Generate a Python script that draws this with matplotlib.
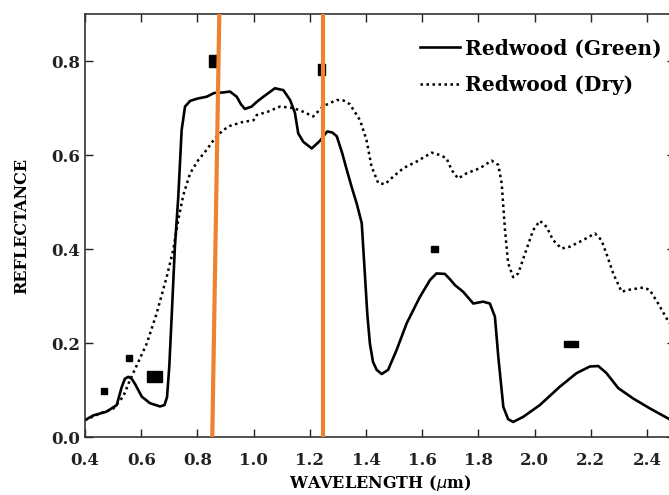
import matplotlib
matplotlib.use('Agg')
import matplotlib.pyplot as plt
from matplotlib.patches import Rectangle

# Reflectance spectra (wavelength in um)
green_wl = [0.400, 0.430, 0.477, 0.513, 0.530, 0.542, 0.554, 0.566, 0.578, 0.602,
            0.631, 0.667, 0.683, 0.692, 0.700, 0.709, 0.720, 0.732, 0.744, 0.756,
            0.774, 0.800, 0.833, 0.860, 0.891, 0.916, 0.940, 0.955, 0.969, 0.993,
            1.011, 1.035, 1.076, 1.106, 1.130, 1.147, 1.159, 1.177, 1.207, 1.236,
            1.262, 1.280, 1.296, 1.315, 1.331, 1.350, 1.367, 1.385, 1.396, 1.405,
            1.414, 1.425, 1.438, 1.456, 1.479, 1.509, 1.545, 1.592, 1.628, 1.651,
            1.681, 1.700, 1.717, 1.746, 1.782, 1.817, 1.841, 1.859, 1.871, 1.889,
            1.906, 1.924, 1.960, 2.019, 2.090, 2.150, 2.197, 2.227, 2.256, 2.298,
            2.351, 2.410, 2.480]
green_refl = [0.036, 0.046, 0.054, 0.068, 0.105, 0.124, 0.128, 0.124, 0.113, 0.086,
              0.072, 0.065, 0.068, 0.085, 0.150, 0.263, 0.405, 0.511, 0.653, 0.703,
              0.715, 0.720, 0.724, 0.732, 0.733, 0.735, 0.724, 0.708, 0.698, 0.703,
              0.713, 0.724, 0.742, 0.738, 0.717, 0.690, 0.646, 0.628, 0.614, 0.630,
              0.650, 0.648, 0.640, 0.605, 0.570, 0.530, 0.497, 0.455, 0.348, 0.260,
              0.199, 0.160, 0.143, 0.134, 0.143, 0.185, 0.242, 0.298, 0.334, 0.348,
              0.347, 0.335, 0.323, 0.309, 0.284, 0.288, 0.284, 0.256, 0.171, 0.064,
              0.038, 0.032, 0.043, 0.068, 0.107, 0.136, 0.150, 0.151, 0.136, 0.104,
              0.082, 0.061, 0.038]

dry_wl = [0.400, 0.453, 0.500, 0.536, 0.560, 0.590, 0.620, 0.655, 0.691, 0.714,
          0.732, 0.750, 0.774, 0.803, 0.833, 0.863, 0.892, 0.916, 0.960, 1.000,
          1.011, 1.050, 1.094, 1.141, 1.177, 1.212, 1.248, 1.296, 1.320, 1.343,
          1.379, 1.402, 1.420, 1.444, 1.468, 1.497, 1.533, 1.580, 1.634, 1.663,
          1.687, 1.705, 1.728, 1.758, 1.806, 1.847, 1.871, 1.883, 1.889, 1.895,
          1.906, 1.924, 1.942, 1.966, 1.995, 2.019, 2.043, 2.066, 2.096, 2.126,
          2.173, 2.215, 2.238, 2.256, 2.280, 2.310, 2.333, 2.387, 2.410, 2.440,
          2.480]
dry_refl = [0.036, 0.050, 0.060, 0.086, 0.121, 0.160, 0.199, 0.263, 0.341, 0.398,
            0.462, 0.515, 0.561, 0.589, 0.611, 0.636, 0.653, 0.662, 0.670, 0.674,
            0.685, 0.692, 0.703, 0.700, 0.692, 0.682, 0.704, 0.717, 0.716, 0.708,
            0.674, 0.632, 0.575, 0.540, 0.538, 0.554, 0.572, 0.586, 0.605, 0.600,
            0.593, 0.568, 0.550, 0.561, 0.572, 0.588, 0.579, 0.540, 0.490, 0.440,
            0.370, 0.340, 0.348, 0.390, 0.440, 0.460, 0.447, 0.419, 0.401, 0.405,
            0.419, 0.433, 0.419, 0.390, 0.348, 0.309, 0.313, 0.318, 0.313, 0.284,
            0.242]

# sensor band points (centre wavelength, reflectance)
band_wl = [0.468, 0.557, 0.646, 0.856, 1.242, 1.644, 2.130]
band_refl = [0.098, 0.169, 0.128, 0.800, 0.782, 0.400, 0.198]
# box sizes for the band marks
box_w = [0.021, 0.021, 0.053, 0.027, 0.025, 0.028, 0.052]
box_h = [0.013, 0.013, 0.023, 0.025, 0.025, 0.013, 0.012]

# orange marker lines (bottom / top wavelength)
orange_bottom = [0.853, 1.247]
orange_top = [0.878, 1.247]

serif = 'DejaVu Serif'
fig = plt.figure(figsize=(6.69, 4.95), dpi=100)
ax = fig.add_axes([85 / 669, 58 / 495, 590 / 669, 423 / 495])

ax.plot(green_wl, green_refl, color='black', lw=1.9, label='Redwood (Green)')
ax.plot(dry_wl, dry_refl, color='black', lw=1.8, linestyle=(0, (1, 1.4)),
        label='Redwood (Dry)')

for x, y, w, h in zip(band_wl, band_refl, box_w, box_h):
    ax.add_patch(Rectangle((x - w / 2, y - h / 2), w, h, color='black', zorder=3))

for xb, xt in zip(orange_bottom, orange_top):
    ax.plot([xb, xt], [0, 0.9], color='#EF8133', lw=3, zorder=4, solid_capstyle='butt')

ax.set_xlim(0.4, 2.5)
ax.set_ylim(0.0, 0.9)
ax.set_xticks([0.4, 0.6, 0.8, 1.0, 1.2, 1.4, 1.6, 1.8, 2.0, 2.2, 2.4])
ax.set_yticks([0.0, 0.2, 0.4, 0.6, 0.8])
ax.xaxis.set_major_formatter(plt.FormatStrFormatter('%.1f'))
ax.yaxis.set_major_formatter(plt.FormatStrFormatter('%.1f'))
ax.tick_params(direction='in', length=6, width=1, top=True, right=True,
               labelsize=12, colors='#222222')
ax.tick_params(axis='x', pad=11)
for lab in ax.get_xticklabels() + ax.get_yticklabels():
    lab.set_fontfamily(serif)
    lab.set_fontweight('bold')
for s in ax.spines.values():
    s.set_color('#333333')
    s.set_linewidth(1.2)

ax.set_xlabel(r'WAVELENGTH ($\mu$m)', fontfamily=serif, fontweight='bold',
              fontsize=11.5, labelpad=3)
ax.set_ylabel('REFLECTANCE', fontfamily=serif, fontweight='bold', fontsize=11.5,
              labelpad=15)

ax.legend(loc='upper left', bbox_to_anchor=(0.537, 0.985), frameon=False,
          handlelength=2.0, handletextpad=0.25, labelspacing=0.8,
          prop={'family': serif, 'weight': 'bold', 'size': 14.5})

fig.savefig('out.png', dpi=100)
